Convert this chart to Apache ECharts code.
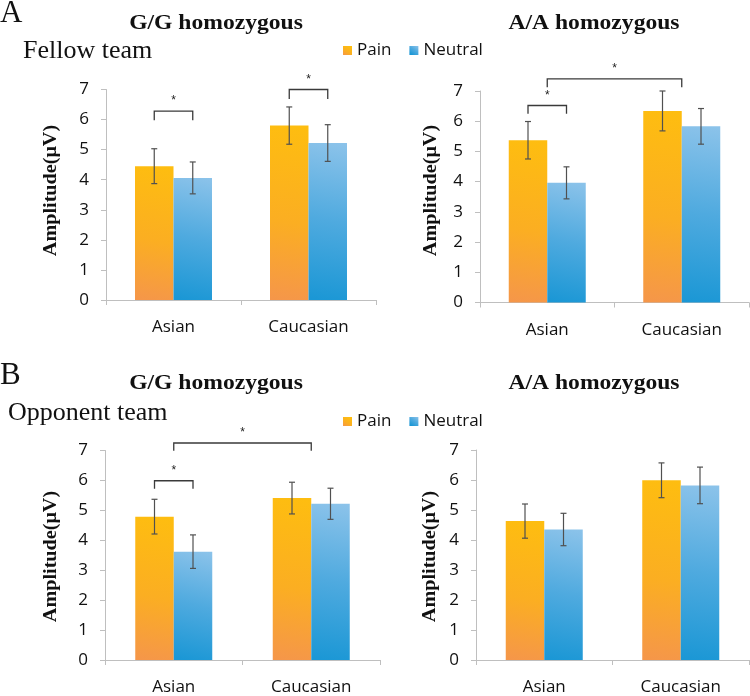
<!DOCTYPE html>
<html>
<head>
<meta charset="utf-8">
<script src="https://cdn.jsdelivr.net/npm/echarts@6/dist/echarts.min.js"></script>
<style>html,body{margin:0;padding:0;background:#fff;}#chart{width:750px;height:696px;}</style>
</head>
<body>
<div id="chart"></div>
<script>
// ---------- DATA ----------
const categories = ['Asian', 'Caucasian'];
const seriesNames = ['Pain', 'Neutral'];
const yTicks = [0, 1, 2, 3, 4, 5, 6, 7];
const yAxisName = 'Amplitude(μV)';

const panelTitles = ['G/G homozygous', 'A/A homozygous', 'G/G homozygous', 'A/A homozygous'];
const sectionLetters = ['A', 'B'];
const sectionLabels = ['Fellow team', 'Opponent team'];

// Panel A (Fellow team)
const fellowGG_pain = [4.45, 5.80];
const fellowGG_painErr = [0.58, 0.62];
const fellowGG_neutral = [4.06, 5.22];
const fellowGG_neutralErr = [0.53, 0.61];

const fellowAA_pain = [5.37, 6.34];
const fellowAA_painErr = [0.62, 0.66];
const fellowAA_neutral = [3.96, 5.83];
const fellowAA_neutralErr = [0.53, 0.59];

// Panel B (Opponent team)
const oppGG_pain = [4.79, 5.41];
const oppGG_painErr = [0.58, 0.53];
const oppGG_neutral = [3.62, 5.22];
const oppGG_neutralErr = [0.56, 0.52];

const oppAA_pain = [4.63, 5.99];
const oppAA_painErr = [0.57, 0.58];
const oppAA_neutral = [4.35, 5.82];
const oppAA_neutralErr = [0.54, 0.61];

// significance brackets: [fromCategory, fromBar, toCategory, toBar, level, legDrop]
// bar: 'Pain', 'Neutral' or 'both'
const fellowGG_sig = [[0, 'Pain', 0, 'Neutral', 6.28, 0.30], [1, 'Pain', 1, 'Neutral', 7.00, 0.32]];
const fellowAA_sig = [[0, 'Pain', 0, 'Neutral', 6.52, 0.27], [0, 'both', 1, 'both', 7.40, 0.28]];
const oppGG_sig = [[0, 'Pain', 0, 'Neutral', 5.99, 0.27], [0, 'both', 1, 'both', 7.25, 0.26]];
const oppAA_sig = [];
const sigMark = '*';

// ---------- LAYOUT / STYLE ----------
const BAR_W = 38.5;
const grids = [
  {left: 106, top: 89.5, width: 270, height: 210.5},
  {left: 480, top: 91, width: 269, height: 211.5},
  {left: 105, top: 450.5, width: 275, height: 213},
  {left: 476, top: 450, width: 273, height: 214}
];
const panels = [
  {pain: fellowGG_pain, painErr: fellowGG_painErr, neutral: fellowGG_neutral, neutralErr: fellowGG_neutralErr, sig: fellowGG_sig},
  {pain: fellowAA_pain, painErr: fellowAA_painErr, neutral: fellowAA_neutral, neutralErr: fellowAA_neutralErr, sig: fellowAA_sig},
  {pain: oppGG_pain, painErr: oppGG_painErr, neutral: oppGG_neutral, neutralErr: oppGG_neutralErr, sig: oppGG_sig},
  {pain: oppAA_pain, painErr: oppAA_painErr, neutral: oppAA_neutral, neutralErr: oppAA_neutralErr, sig: oppAA_sig}
];

const painColor = new echarts.graphic.LinearGradient(0.6, 0, 0, 1, [
  {offset: 0, color: '#FEBD10'}, {offset: 0.55, color: '#FBAE22'}, {offset: 1, color: '#F5964A'}
]);
const neutralColor = new echarts.graphic.LinearGradient(1, 0, 0.3, 1, [
  {offset: 0, color: '#8CC3EA'}, {offset: 0.5, color: '#4FAADF'}, {offset: 1, color: '#1B97D5'}
]);

const axisGrey = '#BFBFBF';
const sansFont = 'Open Sans';
const serifFont = 'Liberation Serif';

function sideOf(bar) { return bar === 'Pain' ? -1 : (bar === 'Neutral' ? 1 : 0); }

function errRender(params, api) {
  const cat = api.value(0), lo = api.value(1), hi = api.value(2), side = api.value(3);
  const pLo = api.coord([cat, lo]), pHi = api.coord([cat, hi]);
  const x = pLo[0] + side * BAR_W / 2;
  const st = {stroke: '#505050', lineWidth: 1.2};
  return {type: 'group', children: [
    {type: 'line', shape: {x1: x, y1: pLo[1], x2: x, y2: pHi[1]}, style: st},
    {type: 'line', shape: {x1: x - 3, y1: pHi[1], x2: x + 3, y2: pHi[1]}, style: st},
    {type: 'line', shape: {x1: x - 3, y1: pLo[1], x2: x + 3, y2: pLo[1]}, style: st}
  ]};
}

function sigRender(params, api) {
  const c1 = api.value(0), s1 = api.value(1), c2 = api.value(2), s2 = api.value(3);
  const lvl = api.value(4), leg = api.value(5);
  const a = api.coord([c1, lvl]), b = api.coord([c2, lvl]);
  const lo = api.coord([c1, lvl - leg]);
  const x1 = a[0] + s1 * BAR_W / 2, x2 = b[0] + s2 * BAR_W / 2;
  const y = a[1], yl = lo[1];
  const st = {stroke: '#3A3A3A', lineWidth: 1.3, fill: null};
  return {type: 'group', children: [
    {type: 'polyline', shape: {points: [[x1, yl], [x1, y], [x2, y], [x2, yl]]}, style: st},
    {type: 'text', x: (x1 + x2) / 2, y: y - 4, style: {text: sigMark, fill: '#222', font: '12px Liberation Sans', align: 'center', verticalAlign: 'bottom'}}
  ]};
}

const xAxes = [], yAxes = [], series = [];
panels.forEach((p, i) => {
  xAxes.push({
    type: 'category', gridIndex: i, data: categories,
    axisLine: {lineStyle: {color: axisGrey, width: 1}},
    axisTick: {show: true, length: 5, lineStyle: {color: axisGrey}},
    axisLabel: {fontFamily: sansFont, fontSize: 17, color: '#111', margin: 19}
  });
  yAxes.push({
    type: 'value', gridIndex: i, min: yTicks[0], max: yTicks[yTicks.length - 1], interval: 1,
    axisLine: {show: true, lineStyle: {color: axisGrey, width: 1}},
    axisTick: {show: true, length: 5, lineStyle: {color: axisGrey}},
    splitLine: {show: false},
    axisLabel: {fontFamily: sansFont, fontSize: 17, color: '#111', margin: 17}
  });
  series.push({
    name: seriesNames[0], type: 'bar', xAxisIndex: i, yAxisIndex: i, data: p.pain,
    barWidth: BAR_W, barGap: '0%', itemStyle: {color: painColor}
  });
  series.push({
    name: seriesNames[1], type: 'bar', xAxisIndex: i, yAxisIndex: i, data: p.neutral,
    barWidth: BAR_W, barGap: '0%', itemStyle: {color: neutralColor}
  });
  const errData = [];
  categories.forEach((c, k) => {
    errData.push([k, p.pain[k] - p.painErr[k], p.pain[k] + p.painErr[k], -1]);
    errData.push([k, p.neutral[k] - p.neutralErr[k], p.neutral[k] + p.neutralErr[k], 1]);
  });
  series.push({
    type: 'custom', xAxisIndex: i, yAxisIndex: i, renderItem: errRender, data: errData,
    encode: {x: 0, y: [1, 2]}, z: 5, silent: true, clip: false
  });
  if (p.sig.length) {
    series.push({
      type: 'custom', xAxisIndex: i, yAxisIndex: i, renderItem: sigRender,
      data: p.sig.map(s => [s[0], sideOf(s[1]), s[2], sideOf(s[3]), s[4], s[5]]),
      encode: {x: 0, y: 4}, z: 6, silent: true, clip: false
    });
  }
});

const texts = [];
const titlePos = [[216, 23.5], [594, 23.5], [216, 383.5], [594, 383.5]];
panelTitles.forEach((t, i) => texts.push({
  type: 'text', x: titlePos[i][0], y: titlePos[i][1], scaleX: 1.18,
  style: {text: t, font: 'bold 20px ' + serifFont, fill: '#111', align: 'center', verticalAlign: 'middle'}
}));
const letterPos = [[0, 14], [0, 376]];
sectionLetters.forEach((t, i) => texts.push({
  type: 'text', x: letterPos[i][0], y: letterPos[i][1],
  style: {text: t, font: '31px ' + serifFont, fill: '#111', align: 'left', verticalAlign: 'middle'}
}));
const labelPos = [[23, 51], [8, 413]];
sectionLabels.forEach((t, i) => texts.push({
  type: 'text', x: labelPos[i][0], y: labelPos[i][1],
  style: {text: t, font: '26px ' + serifFont, fill: '#111', align: 'left', verticalAlign: 'middle'}
}));
const yNamePos = [[51, 190.5], [431.5, 190.5], [51.5, 556.5], [430, 556.5]];
yNamePos.forEach(pos => texts.push({
  type: 'text', x: pos[0], y: pos[1], rotation: Math.PI / 2, scaleX: 1.12,
  style: {text: yAxisName, font: 'bold 18px ' + serifFont, fill: '#111', align: 'center', verticalAlign: 'middle'}
}));

const legendBase = {
  data: seriesNames, icon: 'rect', itemWidth: 9, itemHeight: 9, itemGap: 18,
  textStyle: {fontFamily: sansFont, fontSize: 17, color: '#111'},
  left: 338
};

const chart = echarts.init(document.getElementById('chart'), null, {renderer: 'canvas'});
chart.setOption({
  animation: false,
  backgroundColor: '#fff',
  grid: grids.map(g => Object.assign({containLabel: false}, g)),
  xAxis: xAxes,
  yAxis: yAxes,
  legend: [Object.assign({top: 37}, legendBase), Object.assign({top: 408}, legendBase)],
  series: series,
  graphic: texts
});
</script>
</body>
</html>
